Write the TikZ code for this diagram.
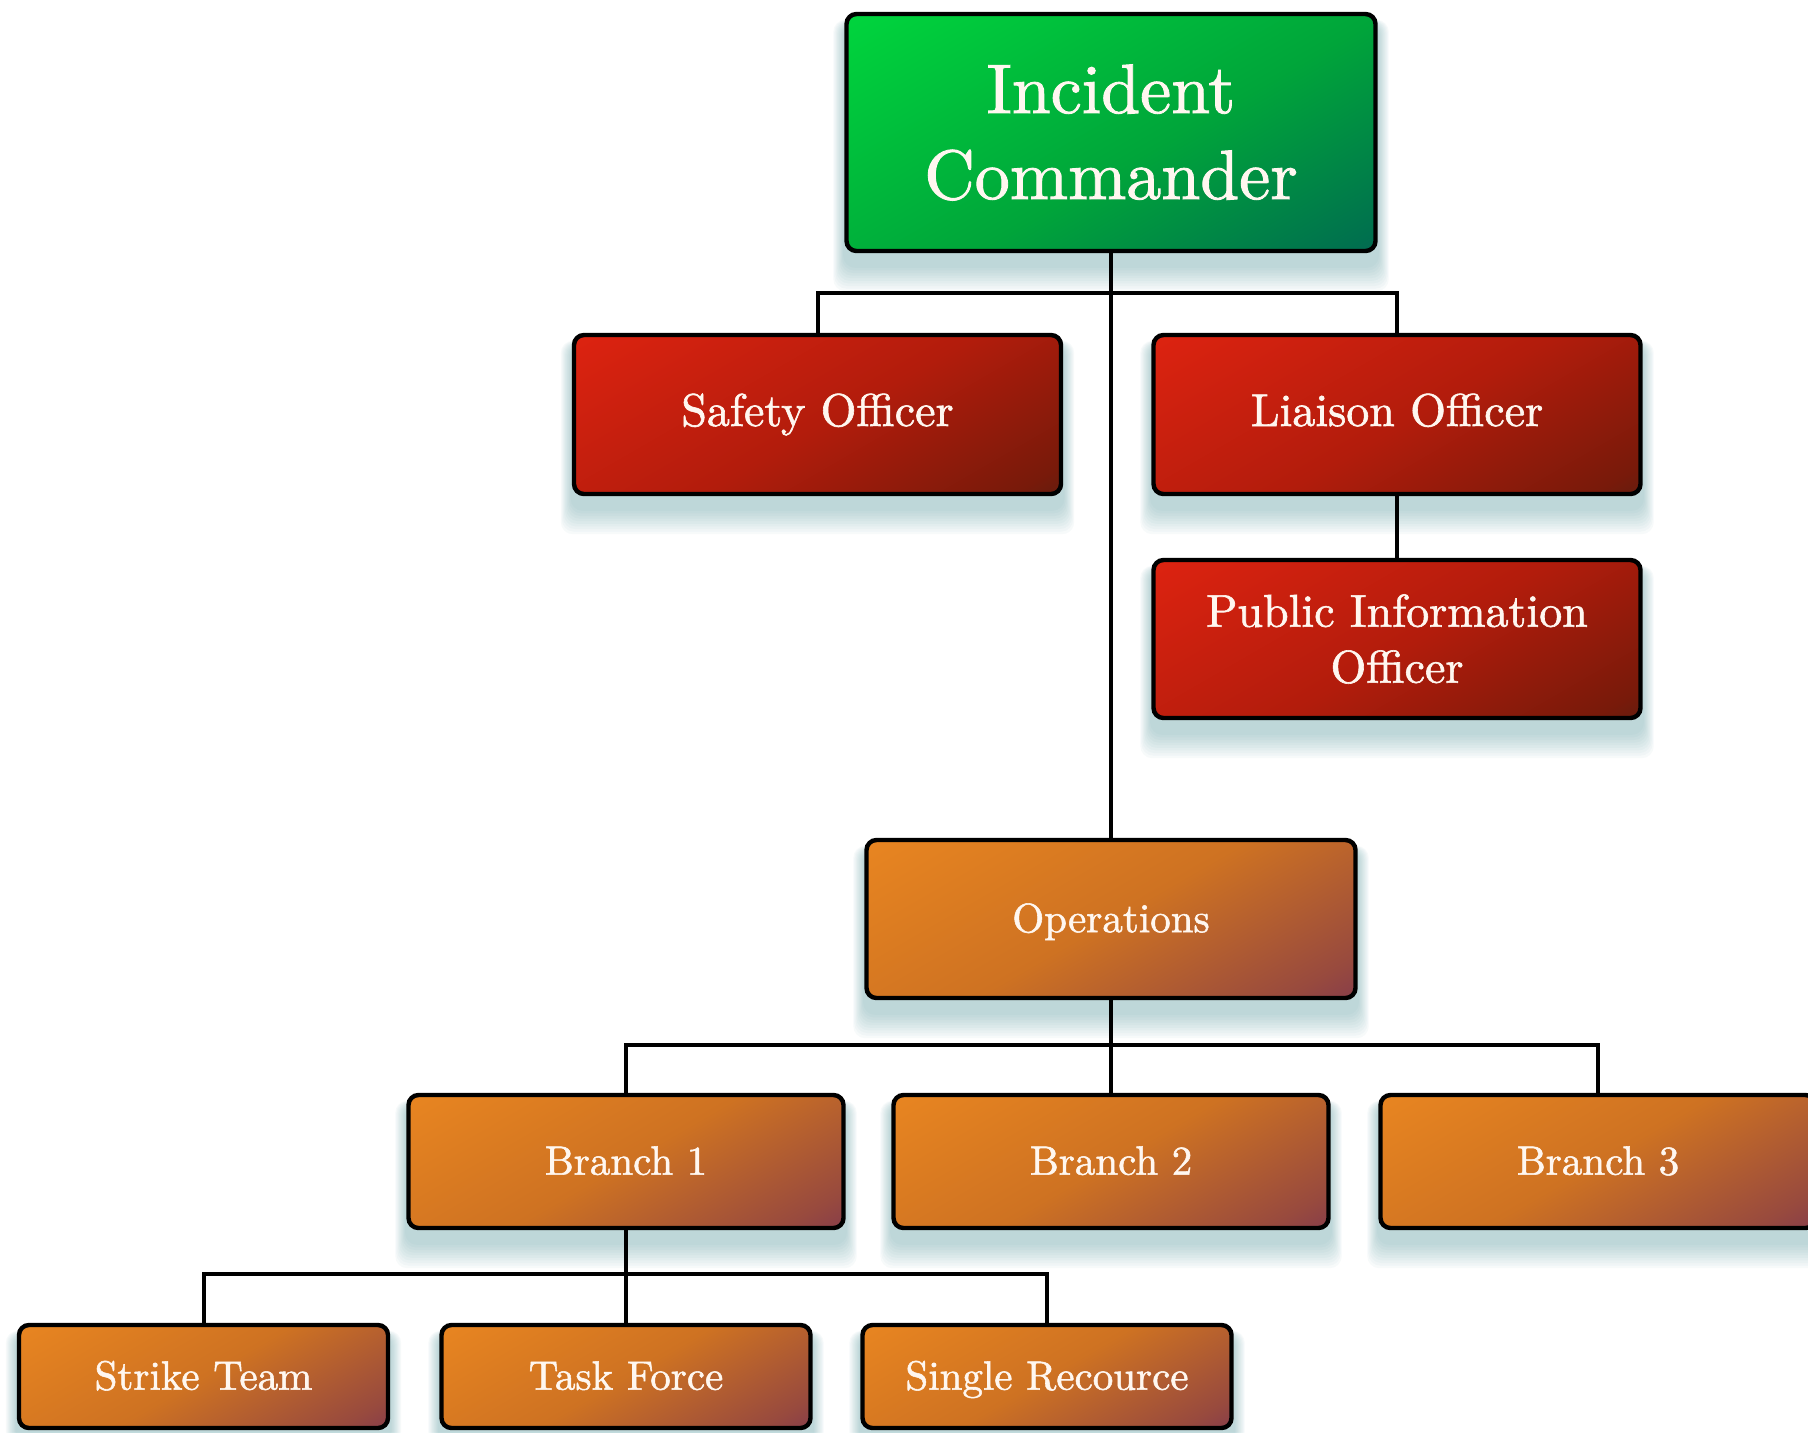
\documentclass[tikz,border=0pt]{standalone}
\usepackage{fontspec}
\usetikzlibrary{backgrounds}

% slightly heavier serif for the box labels
\newfontfamily\labelfont{lmroman10-regular}[Extension=.otf, FakeBold=1.3]

% box fill colours: bright corner, middle tones, dark corner
\definecolor{grnA}{RGB}{0,232,62}
\definecolor{grnB}{RGB}{0,165,58}
\definecolor{grnC}{RGB}{0,112,78}
\definecolor{grnD}{RGB}{36,56,112}
\definecolor{redA}{RGB}{240,38,18}
\definecolor{redB}{RGB}{178,28,12}
\definecolor{redC}{RGB}{120,26,10}
\definecolor{redD}{RGB}{38,38,28}
\definecolor{orgA}{RGB}{244,142,32}
\definecolor{orgB}{RGB}{206,114,34}
\definecolor{orgC}{RGB}{152,74,62}
\definecolor{orgD}{RGB}{96,32,102}
\definecolor{labelc}{RGB}{255,247,240}
\definecolor{shadowc}{RGB}{70,145,150}

\pgfdeclareverticalshading{greenfill}{100bp}{color(0bp)=(grnD); color(18bp)=(grnC); color(45bp)=(grnB); color(100bp)=(grnA)}
\pgfdeclareverticalshading{redfill}{100bp}{color(0bp)=(redD); color(20bp)=(redC); color(48bp)=(redB); color(100bp)=(redA)}
\pgfdeclareverticalshading{orangefill}{100bp}{color(0bp)=(orgD); color(22bp)=(orgC); color(50bp)=(orgB); color(100bp)=(orgA)}

\pgfdeclarelayer{paper}
\pgfdeclarelayer{shadowlayer}
\pgfdeclarelayer{linklayer}
\pgfsetlayers{paper,shadowlayer,linklayer,main}

\tikzset{
  box/.style={rectangle, rounded corners=5pt, draw=black, line width=2.2pt,
    text=labelc, align=center, inner sep=0pt},
  green box/.style={box, shade, shading=greenfill, shading angle=30},
  red box/.style={box, shade, shading=redfill, shading angle=30},
  orange box/.style={box, shade, shading=orangefill, shading angle=30},
  big text/.style={font={\labelfont\fontsize{35}{43}\selectfont}},
  staff text/.style={font={\labelfont\fontsize{23}{28}\selectfont}},
  staff line/.style={staff text, text height=16.5pt, text depth=5pt},
  unit line/.style={font={\labelfont\fontsize{20.5}{24}\selectfont},
    text height=16.2pt, text depth=3pt},
  conn/.style={draw=black, line width=2pt},
}

\begin{document}
\begin{tikzpicture}[x=0.5pt,y=-0.5pt]
\useasboundingbox (0,0) rectangle (1808,1432);
\begin{pgfonlayer}{paper}
  \fill[white] (0,0) rectangle (1808,1432);
\end{pgfonlayer}

% command level
\node[green box, big text, minimum width=264.5pt, minimum height=118.5pt]
  (ic) at (1111,132.5) {Incident\\Commander};

% command staff
\node[red box, staff line, minimum width=243.5pt, minimum height=79.5pt]
  (safety) at (817.5,414.5) {Safety Officer};
\node[red box, staff line, minimum width=243.5pt, minimum height=79.5pt]
  (liaison) at (1397,414.5) {Liaison Officer};
\node[red box, staff text, minimum width=243.5pt, minimum height=79pt]
  (pio) at (1397,639) {Public Information\\Officer};

% operations section
\node[orange box, unit line, minimum width=244.5pt, minimum height=79pt]
  (ops) at (1111,919) {Operations};

\node[orange box, unit line, minimum width=217.5pt, minimum height=66.5pt]
  (b1) at (626,1161.5) {Branch 1};
\node[orange box, unit line, minimum width=217.5pt, minimum height=66.5pt]
  (b2) at (1111,1161.5) {Branch 2};
\node[orange box, unit line, minimum width=217.5pt, minimum height=66.5pt]
  (b3) at (1598,1161.5) {Branch 3};

\node[orange box, unit line, minimum width=184.5pt, minimum height=51.5pt]
  (st) at (203.5,1376.5) {Strike Team};
\node[orange box, unit line, minimum width=184.5pt, minimum height=51.5pt]
  (tf) at (626,1376.5) {Task Force};
\node[orange box, unit line, minimum width=184.5pt, minimum height=51.5pt]
  (sr) at (1047,1376.5) {Single Recource};

% junction points of the connector buses
\coordinate (bus1) at (1111,293);
\coordinate (bus2) at (1111,1045);
\coordinate (bus3) at (626,1274);

\begin{pgfonlayer}{linklayer}
  \draw[conn] (ic.south) -- (ops.north);
  \draw[conn] (safety.north) |- (bus1) -| (liaison.north);
  \draw[conn] (liaison.south) -- (pio.north);
  \draw[conn] (b1.north) |- (bus2) -| (b3.north);
  \draw[conn] (ops.south) -- (b2.north);
  \draw[conn] (st.north) |- (bus3) -| (sr.north);
  \draw[conn] (b1.south) -- (tf.north);
\end{pgfonlayer}

% soft drop shadows under every box
\begin{pgfonlayer}{shadowlayer}
  \foreach \nd in {ic,safety,liaison,pio,ops,b1,b2,b3,st,tf,sr}{
    \foreach \k in {1,...,10}{
      \fill[shadowc, opacity=0.04, rounded corners=6pt]
        ([xshift=-\k*0.55pt, yshift=-\k*1.3pt-6pt]\nd.south west)
        rectangle ([xshift=\k*0.55pt, yshift=\k*0.2pt-6pt]\nd.north east);
    }
  }
\end{pgfonlayer}
\end{tikzpicture}
\end{document}
